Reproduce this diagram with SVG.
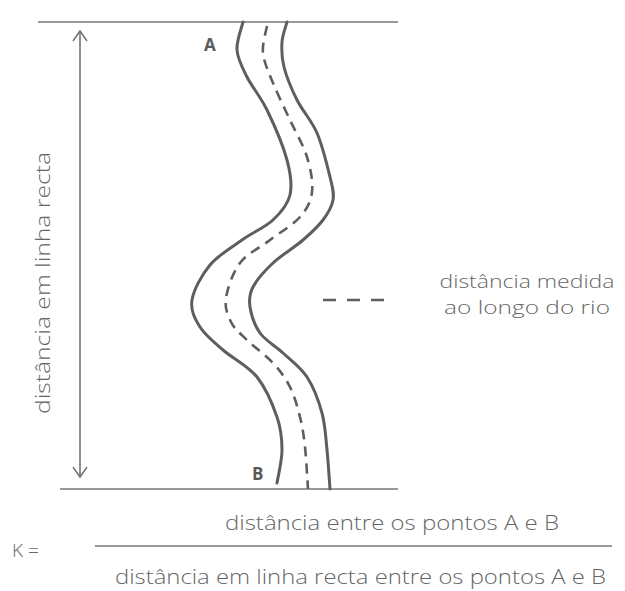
<svg xmlns="http://www.w3.org/2000/svg" width="625" height="591" viewBox="0 0 625 591">
<style>
.t{font-family:"Open Sans","Liberation Sans",sans-serif;font-weight:300;fill:#666;font-size:20px}
.b{font-family:"Open Sans","Liberation Sans",sans-serif;font-weight:700;fill:#5a5a5a;font-size:17px}
.ln{stroke:#777;stroke-width:1.6;fill:none}
.bank{stroke:#5e5e5e;stroke-width:3;fill:none;stroke-linecap:round}
.dash{stroke:#5e5e5e;stroke-width:2.6;fill:none;stroke-dasharray:10 7}
</style>
<rect width="625" height="591" fill="#fff"/>
<g id="connectors">
<line class="ln" x1="38" y1="22" x2="398" y2="22"/>
<line class="ln" x1="60" y1="489" x2="398" y2="489"/>
<line class="ln" x1="80" y1="31" x2="80" y2="477"/>
<polyline class="ln" points="73,41 80,31 87,41"/>
<polyline class="ln" points="73,467 80,477 87,467"/>
<line class="ln" x1="95" y1="546" x2="612" y2="546"/>
</g>
<g id="river">
<path class="bank" d="M243,22 C242,26.7 236.3,40.8 237,50 C237.7,59.2 242,67 247,77 C252,87 260.3,96.2 267,110 C273.7,123.8 283.2,145.8 287,160 C290.8,174.2 292.3,185 290,195 C287.7,205 281,212.5 273,220 C265,227.5 252.5,232.5 242,240 C231.5,247.5 218.3,255 210,265 C201.7,275 193.7,289.7 192,300 C190.3,310.3 194.8,318.7 200,327 C205.2,335.3 213.5,341.7 223,350 C232.5,358.3 248,365.8 257,377 C266,388.2 272.8,404.8 277,417 C281.2,429.2 282,439 282,450 C282,461 277.8,477.5 277,483"/>
<path class="bank" d="M287,22 C286.2,25.3 282.5,34.5 282,42 C281.5,49.5 281.5,57.3 284,67 C286.5,76.7 291.5,89 297,100 C302.5,111 311.5,120.2 317,133 C322.5,145.8 327.3,165.8 330,177 C332.7,188.2 334.2,192.8 333,200 C331.8,207.2 328,213.3 323,220 C318,226.7 311.3,232.8 303,240 C294.7,247.2 281.3,255.2 273,263 C264.7,270.8 256.8,279.7 253,287 C249.2,294.3 248.8,299.3 250,307 C251.2,314.7 254.5,325.3 260,333 C265.5,340.7 275.2,345.7 283,353 C290.8,360.3 300.5,367 307,377 C313.5,387 318.7,400.8 322,413 C325.3,425.2 325.7,437.3 327,450 C328.3,462.7 329.5,482.5 330,489"/>
<path class="dash" d="M267,26 C266.3,30.5 262,43.5 263,53 C264,62.5 268.5,71.8 273,83 C277.5,94.2 284.3,107.7 290,120 C295.7,132.3 303.3,145 307,157 C310.7,169 313.2,182 312,192 C310.8,202 307,209 300,217 C293,225 280,232.3 270,240 C260,247.7 247.3,253.3 240,263 C232.7,272.7 227.5,288.2 226,298 C224.5,307.8 227.5,315 231,322 C234.5,329 240,333.2 247,340 C254,346.8 265.8,355.2 273,363 C280.2,370.8 285.5,378 290,387 C294.5,396 297.5,407 300,417 C302.5,427 303.7,435 305,447 C306.3,459 307.5,482 308,489"/>
</g>
<g id="legend">
<line class="dash" x1="323" y1="300" x2="386" y2="300" style="stroke-dasharray:13 11;stroke-width:2.4"/>
<text class="t" x="527" y="288" text-anchor="middle" textLength="175" lengthAdjust="spacingAndGlyphs" style="font-size:19px">distância medida</text>
<text class="t" x="527" y="314" text-anchor="middle" textLength="166" lengthAdjust="spacingAndGlyphs" style="font-size:19px">ao longo do rio</text>
</g>
<g id="labels">
<text class="b" x="204" y="51">A</text>
<text class="b" x="252" y="480">B</text>
<text class="t" transform="translate(50,414) rotate(-90)" textLength="262" lengthAdjust="spacingAndGlyphs">distância em linha recta</text>
<text class="t" x="12" y="557" style="font-size:19px">K =</text>
<text class="t" x="225" y="530" textLength="334" lengthAdjust="spacingAndGlyphs">distância entre os pontos A e B</text>
<text class="t" x="115" y="584" textLength="491" lengthAdjust="spacingAndGlyphs">distância em linha recta entre os pontos A e B</text>
</g>
</svg>
